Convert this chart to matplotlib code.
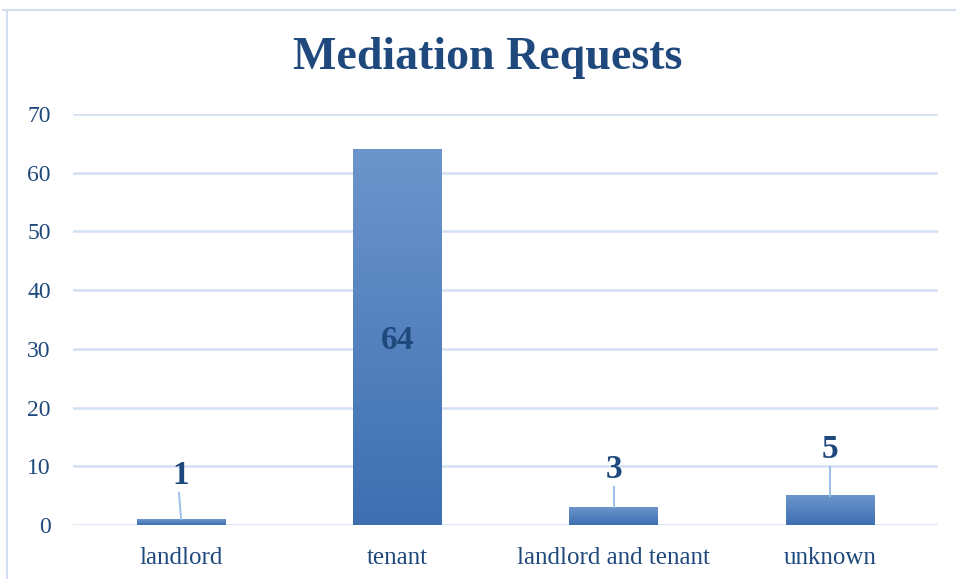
import numpy as np
import matplotlib.pyplot as plt
from matplotlib.colors import LinearSegmentedColormap

categories = ['landlord', 'tenant', 'landlord and tenant', 'unknown']
requests = [1, 64, 3, 5]
# where the data labels sit (y, data units)
label_y = [8.5, 31.5, 9.4, 12.8]

navy = '#1F497D'
grid_col = '#D3E0F2'

plt.rcParams['font.family'] = ['Liberation Serif', 'DejaVu Serif']

fig = plt.figure(figsize=(9.56, 5.79), dpi=100)
ax = fig.add_axes([73 / 956, 1 - 525 / 579, 865 / 956, 411 / 579])

x = np.arange(len(categories))
bars = ax.bar(x, requests, width=0.41, color='none', zorder=3)

# vertical gradient on each bar, light at the top
cmap = LinearSegmentedColormap.from_list('bar', ['#3D6FB1', '#6C95CB'])
grad = np.linspace(0, 1, 256).reshape(-1, 1)
for b in bars:
    x0, y0 = b.get_xy()
    ax.imshow(grad, cmap=cmap, origin='lower', aspect='auto', zorder=3,
              extent=[x0, x0 + b.get_width(), y0, y0 + b.get_height()])

ax.set_xlim(-0.5, 3.5)
ax.set_ylim(0, 70)
ax.set_yticks(range(0, 71, 10))
ax.set_xticks(x)
ax.set_xticklabels(categories)
ax.tick_params(length=0, colors=navy)
ax.tick_params(axis='y', pad=16, labelsize=17)
ax.tick_params(axis='x', pad=16, labelsize=18)
ax.grid(axis='y', color=grid_col, lw=1.8, zorder=0)
for s in ax.spines.values():
    s.set_visible(False)

# data labels with leader lines
for i, (v, ly) in enumerate(zip(requests, label_y)):
    ax.text(x[i], ly, str(v), ha='center', va='center', fontsize=24,
            fontweight='bold', color=navy, zorder=5)
    if ly > v:
        ax.plot([x[i] - 0.01, x[i]] if i == 0 else [x[i], x[i]],
                [ly - 3.0, v], color='#9DC0E8', lw=1.4, zorder=4)

fig.text(0.51, 1 - 58 / 579, 'Mediation Requests', ha='center', va='center',
         fontsize=33, fontweight='bold', color=navy)

# chart border (top and left edges are visible)
fig.add_artist(plt.Line2D([3 / 956, 1], [1 - 10 / 579] * 2,
                          transform=fig.transFigure, color=grid_col, lw=1.5))
fig.add_artist(plt.Line2D([7 / 956] * 2, [0, 1 - 10 / 579],
                          transform=fig.transFigure, color=grid_col, lw=1.5))

fig.savefig('out.png', dpi=100)
